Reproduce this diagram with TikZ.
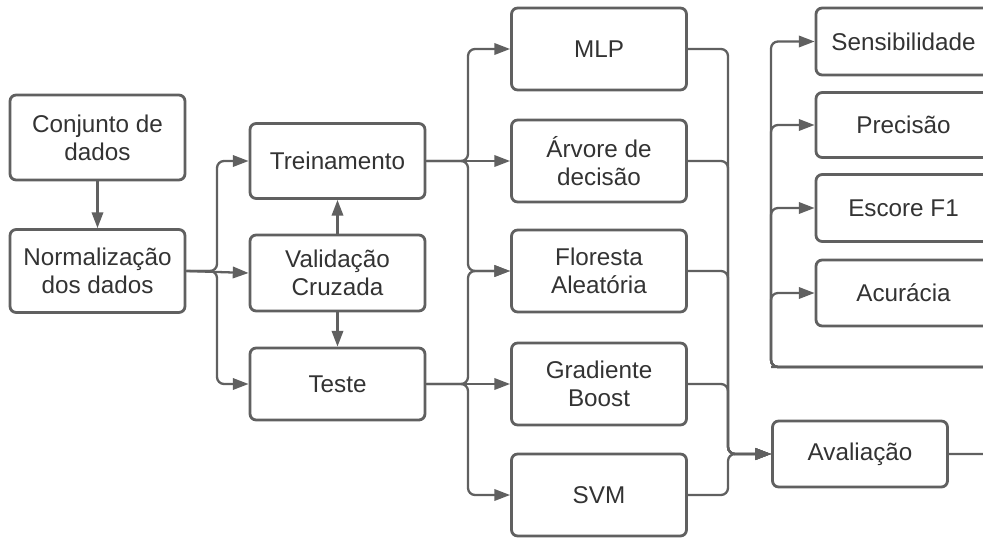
\documentclass[tikz,border=0pt]{standalone}
\usepackage{fontspec}
\setmainfont{Liberation Sans}
\usepackage{tikz}
\usetikzlibrary{arrows.meta}
\definecolor{linegray}{RGB}{96,96,96}
\definecolor{textgray}{RGB}{51,51,51}
\tikzset{
    procbox/.style={
        draw=linegray,
        line width=1.6pt,
        rounded corners=3.5pt,
        fill=white,
        text=textgray,
        align=center,
        inner sep=0pt,
        minimum width=3.5cm,
        font=\fontsize{13.8}{16}\selectfont
    },
    % arrow between boxes
    grayarrow/.style={
        line width=1.3pt,
        linegray,
        rounded corners=4pt,
        -{Triangle[length=9pt, width=6.5pt]}
    },
    grayline/.style={
        line width=1.3pt,
        linegray,
        rounded corners=4pt
    }
}
\begin{document}
\begin{tikzpicture}[x=0.02cm,y=-0.02cm]
\useasboundingbox (0,0) rectangle (983,541);
\clip (0,0) rectangle (983,541);

% dados
\node[procbox, minimum height=1.7cm] (conj) at (97.5,137.5) {Conjunto de\\dados};
\node[procbox, minimum height=1.66cm] (norm) at (97.5,271) {Normalização\\dos dados};

% divisao
\node[procbox, minimum height=1.5cm] (trein) at (337.5,161) {Treinamento};
\node[procbox, minimum height=1.52cm] (valid) at (337.5,273) {Validação\\Cruzada};
\node[procbox, minimum height=1.44cm] (teste) at (337.5,384) {Teste};

% modelos
\node[procbox, minimum height=1.64cm] (mlp) at (599,49) {MLP};
\node[procbox, minimum height=1.64cm] (arv) at (599,161) {Árvore de\\decisão};
\node[procbox, minimum height=1.64cm] (flor) at (599,271) {Floresta\\Aleatória};
\node[procbox, minimum height=1.64cm] (grad) at (599,384) {Gradiente\\Boost};
\node[procbox, minimum height=1.64cm] (svm) at (599,495) {SVM};

% avaliacao
\node[procbox, minimum height=1.32cm] (aval) at (860,454) {Avaliação};
\node[procbox, minimum height=1.34cm] (sens) at (903.5,41.5) {Sensibilidade};
\node[procbox, minimum height=1.3cm] (prec) at (903.5,125) {Precisão};
\node[procbox, minimum height=1.34cm] (esc) at (903.5,208) {Escore F1};
\node[procbox, minimum height=1.32cm] (acur) at (903.5,293) {Acurácia};

\path
    (217,271) coordinate (b1)
    (468,161) coordinate (b2)
    (468,384) coordinate (b3)
    (728,454) coordinate (b4)
    (1010,367) coordinate (ret)
    (771,367) coordinate (b5);

\draw[grayarrow] (conj) -- (norm);
\draw[grayarrow] (valid) -- (trein);
\draw[grayarrow] (valid) -- (teste);

\draw[grayarrow] (norm.east) -- (b1) |- (trein.west);
\draw[grayarrow] (norm.east) -- (valid.west);
\draw[grayarrow] (norm.east) -- (b1) |- (teste.west);

\draw[grayarrow] (trein.east) -- (b2) |- (mlp.west);
\draw[grayarrow] (trein.east) -- (arv.west);
\draw[grayarrow] (trein.east) -- (b2) |- (flor.west);
\draw[grayarrow] (teste.east) -- (b3) |- (flor.west);
\draw[grayarrow] (teste.east) -- (grad.west);
\draw[grayarrow] (teste.east) -- (b3) |- (svm.west);

\foreach \m in {mlp,arv,flor,grad,svm}
    \draw[grayarrow] (\m.east) -| (b4) -- (aval.west);

\draw[grayline] (aval.east) -| (ret) -- (b5);
\foreach \m in {sens,prec,esc,acur}
    \draw[grayarrow] (ret) -- (b5) |- (\m.west);
\end{tikzpicture}
\end{document}
